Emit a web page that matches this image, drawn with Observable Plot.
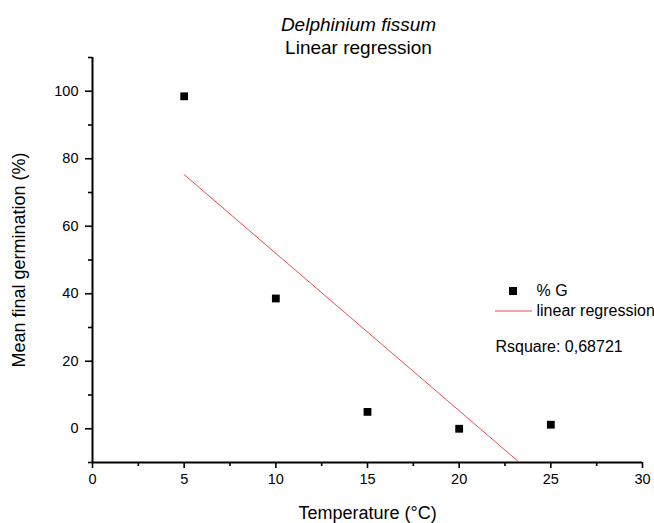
<!DOCTYPE html>
<html>
<head>
<meta charset="utf-8">
<script src="https://cdn.jsdelivr.net/npm/d3@7"></script>
<script src="https://cdn.jsdelivr.net/npm/@observablehq/plot@0.6"></script>
<style>
  html, body { margin: 0; padding: 0; background: #fff; }
  svg { display: block; }
</style>
</head>
<body>
<div id="chart"></div>
<script>
const temperature = [5, 10, 15, 20, 25];
const germination = [98.5, 38.6, 5.0, 0.0, 1.2];
const xTicks = [0, 5, 10, 15, 20, 25, 30];
const xMinorTicks = [2.5, 7.5, 12.5, 17.5, 22.5, 27.5];
const yTicks = [0, 20, 40, 60, 80, 100];
const yMinorTicks = [-10, 10, 30, 50, 70, 90, 110];
const titleLines = ["Delphinium fissum", "Linear regression"];
const legendLabels = ["% G", "linear regression"];
const rsquareLabel = "Rsquare: 0,68721";

const data = temperature.map((t, i) => ({t, g: germination[i]}));
const font = "'Liberation Sans', Arial, sans-serif";

const chart = Plot.plot({
  width: 654,
  height: 523,
  marginLeft: 92,
  marginRight: 12,
  marginTop: 57,
  marginBottom: 61,
  x: {domain: [0, 30]},
  y: {domain: [-10, 110]},
  style: {fontFamily: font, fontSize: "14px", color: "#000", background: "#fff"},
  marks: [
    Plot.axisX(xTicks, {tickSize: 6, tickPadding: 5, strokeWidth: 1.6, fontSize: 14.5, label: null}),
    Plot.axisX(xMinorTicks, {tickSize: 4, strokeWidth: 1.6, tickFormat: () => "", label: null}),
    Plot.axisY(yTicks, {tickSize: 7, tickPadding: 7, strokeWidth: 1.6, fontSize: 14.5, label: null}),
    Plot.axisY(yMinorTicks, {tickSize: 4, strokeWidth: 1.6, tickFormat: () => "", label: null}),
    Plot.ruleX([0], {strokeWidth: 2}),
    Plot.ruleY([-10], {strokeWidth: 2}),
    Plot.linearRegressionY(data, {x: "t", y: "g", stroke: "#f04848", strokeWidth: 1, ci: 0, clip: true}),
    Plot.dot(data, {x: "t", y: "g", symbol: "square", r: 4.4, fill: "black", stroke: null}),
    Plot.text([titleLines[0]], {frameAnchor: "top", dx: -9, dy: -33, fontSize: 19, fontStyle: "italic", lineAnchor: "middle"}),
    Plot.text([titleLines[1]], {frameAnchor: "top", dx: -9, dy: -10, fontSize: 19, lineAnchor: "middle"}),
    Plot.text(["Temperature (°C)"], {frameAnchor: "bottom", dx: 0, dy: 51, fontSize: 18, lineAnchor: "middle"}),
    Plot.text(["Mean final germination (%)"], {frameAnchor: "left", dx: -73, rotate: -90, fontSize: 18, textAnchor: "middle", lineAnchor: "middle"}),
    Plot.text([legendLabels[0]], {frameAnchor: "top-left", dx: 444, dy: 233, fontSize: 16, textAnchor: "start", lineAnchor: "middle"}),
    Plot.text([legendLabels[1]], {frameAnchor: "top-left", dx: 444, dy: 253, fontSize: 16, textAnchor: "start", lineAnchor: "middle"}),
    Plot.text([rsquareLabel], {frameAnchor: "top-left", dx: 403, dy: 289, fontSize: 16, textAnchor: "start", lineAnchor: "middle"})
  ]
});

document.getElementById("chart").appendChild(chart);

// legend symbols
const svg = d3.select(chart.tagName.toLowerCase() === "svg" ? chart : chart.querySelector("svg"));
const lg = svg.append("g");
lg.append("rect").attr("x", 509).attr("y", 287).attr("width", 8).attr("height", 8).attr("fill", "black");
lg.append("line").attr("x1", 495).attr("x2", 532).attr("y1", 311).attr("y2", 311)
  .attr("stroke", "#f04848").attr("stroke-width", 1);
</script>
</body>
</html>
